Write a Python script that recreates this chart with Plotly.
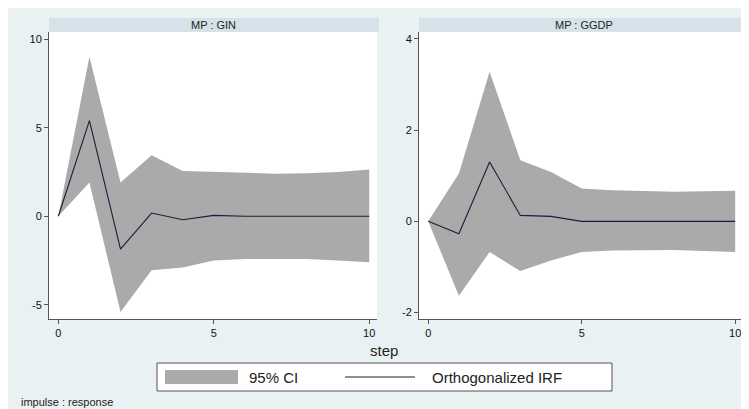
import plotly.graph_objects as go

steps = list(range(11))

gin_irf = [0, 5.4, -1.85, 0.18, -0.2, 0.05, 0.0, 0.0, 0.0, 0.0, 0.0]
gin_upper = [0, 9.0, 1.9, 3.45, 2.56, 2.5, 2.42, 2.4, 2.42, 2.5, 2.64]
gin_lower = [0, 1.9, -5.4, -3.05, -2.9, -2.5, -2.42, -2.4, -2.42, -2.5, -2.6]

ggdp_irf = [0, -0.27, 1.3, 0.13, 0.11, 0.0, 0.0, 0.0, 0.0, 0.0, 0.0]
ggdp_upper = [0, 1.05, 3.28, 1.34, 1.08, 0.72, 0.68, 0.66, 0.65, 0.66, 0.67]
ggdp_lower = [0, -1.63, -0.67, -1.09, -0.86, -0.67, -0.64, -0.63, -0.63, -0.65, -0.67]

panel_titles = ["MP : GIN", "MP : GGDP"]
gin_yticks = [-5, 0, 5, 10]
ggdp_yticks = [-2, 0, 2, 4]
x_ticks = [0, 5, 10]

# page body has an 8px margin, so the figure is offset by 8px
OFF = 8
W, H = 749 - OFF, 409 - OFF
CI_COLOR = "#aaaaaa"
LINE_COLOR = "#1c1c3c"
BG = "#eaf1f3"

def px(x):
    return (x - OFF) / W

def py(y):
    return 1 - (y - OFF) / H

fig = go.Figure()

panels = [
    (gin_irf, gin_upper, gin_lower, "x", "y"),
    (ggdp_irf, ggdp_upper, ggdp_lower, "x2", "y2"),
]
for irf, up, lo, xa, ya in panels:
    fig.add_trace(go.Scatter(x=steps, y=lo, mode="lines", line=dict(width=0, color=CI_COLOR),
                             xaxis=xa, yaxis=ya, showlegend=False, hoverinfo="skip"))
    fig.add_trace(go.Scatter(x=steps, y=up, mode="lines", line=dict(width=0, color=CI_COLOR),
                             fill="tonexty", fillcolor=CI_COLOR,
                             xaxis=xa, yaxis=ya, showlegend=False, hoverinfo="skip"))
    fig.add_trace(go.Scatter(x=steps, y=irf, mode="lines", line=dict(width=1.1, color=LINE_COLOR),
                             xaxis=xa, yaxis=ya, showlegend=False))

axis_common = dict(showgrid=False, zeroline=False, showline=True, linecolor="#555555", linewidth=1,
                   ticks="outside", ticklen=4, tickcolor="#555555", ticklabeloverflow="allow",
                   tickfont=dict(family="Liberation Sans, Arial", size=11, color="#111111"))

y0 = py(319)
y1 = py(32)
fig.update_layout(
    width=W, height=H,
    margin=dict(l=0, r=0, t=0, b=0),
    paper_bgcolor=BG,
    plot_bgcolor="white",
    showlegend=False,
    xaxis=dict(domain=[px(49), px(377)], range=[-0.3, 10.25], tickvals=x_ticks,
               ticktext=[str(t) for t in x_ticks], anchor="y", **axis_common),
    yaxis=dict(domain=[y0, y1], range=[-5.8, 10.4], tickvals=gin_yticks,
               ticktext=[str(t) for t in gin_yticks], anchor="x", **axis_common),
    xaxis2=dict(domain=[px(419), 1.0], range=[-0.3, 10.45], tickvals=x_ticks,
                ticktext=[str(t) for t in x_ticks], anchor="y2", **axis_common),
    yaxis2=dict(domain=[y0, y1], range=[-2.14, 4.15], tickvals=ggdp_yticks,
                ticktext=[str(t) for t in ggdp_yticks], anchor="x2", **axis_common),
)

shapes = [
    # title strips
    dict(type="rect", xref="paper", yref="paper", x0=px(49), x1=px(379), y0=py(32), y1=py(18),
         fillcolor="#d6e2e9", line=dict(width=0), layer="below"),
    dict(type="rect", xref="paper", yref="paper", x0=px(419), x1=1.0, y0=py(32), y1=py(18),
         fillcolor="#d6e2e9", line=dict(width=0), layer="below"),
    # legend box
    dict(type="rect", xref="paper", yref="paper", x0=px(157), x1=px(612), y0=py(391), y1=py(363),
         fillcolor="white", line=dict(width=1, color="#555555")),
    dict(type="rect", xref="paper", yref="paper", x0=px(165), x1=px(238), y0=py(384), y1=py(370),
         fillcolor=CI_COLOR, line=dict(width=0)),
    dict(type="line", xref="paper", yref="paper", x0=px(345), x1=px(415), y0=py(377), y1=py(377),
         line=dict(width=1.1, color=LINE_COLOR)),
]
fig.update_layout(shapes=shapes)

font = dict(family="Liberation Sans, Arial", color="#222222")
annotations = [
    dict(text=panel_titles[0], x=px(213), y=py(25), xref="paper", yref="paper", showarrow=False,
         font=dict(size=11, **font), xanchor="center", yanchor="middle"),
    dict(text=panel_titles[1], x=px(584), y=py(25), xref="paper", yref="paper", showarrow=False,
         font=dict(size=11, **font), xanchor="center", yanchor="middle"),
    dict(text="step", x=px(384), y=py(350), xref="paper", yref="paper", showarrow=False,
         font=dict(size=15, **font), xanchor="center", yanchor="middle"),
    dict(text="95% CI", x=px(247), y=py(377), xref="paper", yref="paper", showarrow=False,
         font=dict(size=15, **font), xanchor="left", yanchor="middle"),
    dict(text="Orthogonalized IRF", x=px(430), y=py(377), xref="paper", yref="paper", showarrow=False,
         font=dict(size=15, **font), xanchor="left", yanchor="middle"),
    dict(text="impulse : response", x=px(19), y=py(402), xref="paper", yref="paper", showarrow=False,
         font=dict(size=11, **font), xanchor="left", yanchor="middle"),
]
fig.update_layout(annotations=annotations)

fig.write_html("out.html")
